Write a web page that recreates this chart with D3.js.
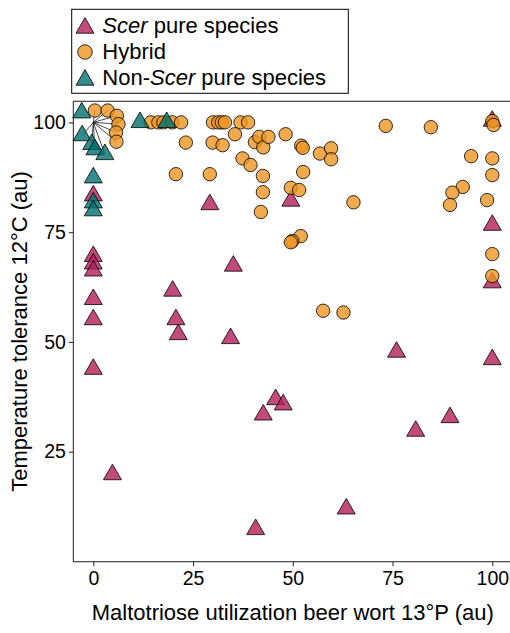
<!DOCTYPE html>
<html>
<head>
<meta charset="utf-8">
<script src="https://cdn.jsdelivr.net/npm/d3@7"></script>
<style>
  body { margin: 0; background: #fff; }
  text { font-family: "Liberation Sans", Arial, Helvetica, sans-serif; fill: #000; }
</style>
</head>
<body>
<svg id="chart" width="510" height="633"></svg>
<script>
// ---- data -------------------------------------------------------------
const xTicks = [0, 25, 50, 75, 100];
const yTicks = [25, 50, 75, 100];

const xTitle = "Maltotriose utilization beer wort 13°P (au)";
const yTitle = "Temperature tolerance 12°C (au)";

// S. cerevisiae pure species
const scerX = [0, 0, 0, 0, 0, 0, 0, 4.8, 19.9, 20.7, 21.3, 29.2, 35.1, 34.4, 40.7, 42.6, 45.7, 47.6, 49.5, 63.4, 76.0, 80.8, 89.4, 100, 100, 100, 100];
const scerY = [69.5, 67.8, 66.2, 59.7, 55.1, 43.8, 83.3, 19.8, 61.6, 55.1, 51.7, 81.3, 67.3, 50.8, 7.3, 33.4, 36.9, 35.7, 82.1, 12.0, 47.7, 29.7, 32.8, 100.3, 76.6, 63.5, 46.0];

// Hybrids
const hybX = [14.4, 16.3, 17.6, 19.8, 22.0, 30.0, 31.3, 32.2, 33.0, 36.9, 38.8,
  73.3, 84.6, 100, 100.3,
  23.2, 29.9, 32.4, 35.5, 40.5, 41.6, 42.6, 43.9, 48.2, 52.1, 52.5, 56.8, 59.6, 59.6,
  37.4, 39.4, 20.7, 29.2, 42.5, 52.6, 42.5, 49.5, 51.6, 42.0, 65.2,
  52.0, 49.9, 49.5, 57.6, 62.7,
  94.7, 100, 100, 92.6, 90.0, 89.4, 98.7, 100, 100];
const hybY = [100, 100, 100, 100, 100, 100, 100, 100, 100, 100, 100,
  99.2, 98.9, 100.3, 99.4,
  95.4, 95.4, 94.8, 97.3, 95.5, 96.7, 94.3, 96.7, 97.3, 94.7, 94.2, 92.9, 94.1, 91.6,
  91.8, 90.3, 88.2, 88.2, 87.8, 88.7, 84.1, 85.1, 84.6, 79.6, 81.8,
  74.1, 73.0, 72.7, 57.1, 56.7,
  92.3, 91.8, 88.0, 85.3, 84.0, 81.2, 82.3, 70.0, 65.0];

// Non-S. cerevisiae pure species
const nonX = [-2.9, 11.7, 18.4, 0, 0, 0];
const nonY = [102.2, 100, 100, 87.4, 81.7, 79.9];

// Strains sharing the point (0, 100), fanned out around it
const spreadCentre = [0, 100];
const spreadHybX = [0.4, 3.6, 5.9, 6.3, 5.7, 5.8];
const spreadHybY = [102.7, 102.7, 101.5, 99.6, 97.7, 95.6];
const spreadNonX = [-2.8, -0.4, 0.4, 2.9];
const spreadNonY = [97.0, 95.0, 93.8, 92.7];

const groups = [
  { key: "scer", label: ["Scer", " pure species"], italic: [true, false], fill: "#b31e5a", shape: "tri" },
  { key: "hyb", label: ["Hybrid"], italic: [false], fill: "#ee9520", shape: "circ" },
  { key: "non", label: ["Non-", "Scer", " pure species"], italic: [false, true, false], fill: "#007070", shape: "tri" }
];

// ---- layout -----------------------------------------------------------
const svg = d3.select("#chart");
const x = d3.scaleLinear().domain([-5, 105]).range([73.35, 512.25]);
const y = d3.scaleLinear().domain([-0.05, 104.8]).range([561.7, 101.3]);

const fillOpacity = 0.8;
const strokeCol = "#000";
const strokeOp = 0.8;
const triPath = d3.symbol().type(d3.symbolTriangle).size(140)();
const circR = 6.7;

// ---- axes -------------------------------------------------------------
const yAxis = svg.append("g")
  .attr("transform", `translate(${x(-5)},0)`)
  .call(d3.axisLeft(y).tickValues(yTicks).tickSize(4.5).tickPadding(3).tickFormat(d3.format("d")));
const xAxis = svg.append("g")
  .attr("transform", `translate(0,${y(-0.05)})`)
  .call(d3.axisBottom(x).tickValues(xTicks).tickSize(4.5).tickPadding(5).tickFormat(d3.format("d")));
[xAxis, yAxis].forEach(a => {
  a.select(".domain").remove();
  a.selectAll(".tick line").attr("stroke", "#333").attr("stroke-width", 1.1);
  a.selectAll(".tick text").attr("font-size", 19.5).attr("fill", "#111")
    .style("font-family", '"Liberation Sans", Arial, sans-serif');
});

// panel border
svg.append("rect")
  .attr("x", x(-5)).attr("y", y(104.8))
  .attr("width", x(105) - x(-5)).attr("height", y(-0.05) - y(104.8))
  .attr("fill", "none").attr("stroke", "#333").attr("stroke-width", 1.1);

// axis titles
svg.append("text")
  .attr("x", (x(-5) + x(105)) / 2).attr("y", 620)
  .attr("text-anchor", "middle").attr("font-size", 22)
  .text(xTitle);
svg.append("text")
  .attr("transform", `translate(27,${(y(-0.05) + y(104.8)) / 2}) rotate(-90)`)
  .attr("text-anchor", "middle").attr("font-size", 22)
  .text(yTitle);

// ---- marks ------------------------------------------------------------
const plot = svg.append("g");

// spokes from the shared point to each fanned-out strain
const spokes = spreadHybX.map((v, i) => [v, spreadHybY[i]])
  .concat(spreadNonX.map((v, i) => [v, spreadNonY[i]]));
plot.selectAll("line.spoke").data(spokes).join("line")
  .attr("class", "spoke")
  .attr("x1", x(spreadCentre[0])).attr("y1", y(spreadCentre[1]))
  .attr("x2", d => x(d[0])).attr("y2", d => y(d[1]))
  .attr("stroke", "#000").attr("stroke-width", 0.7);

function drawTri(sel, xs, ys, fill) {
  sel.selectAll(null).data(xs.map((v, i) => [v, ys[i]])).join("path")
    .attr("d", triPath)
    .attr("transform", d => `translate(${x(d[0])},${y(d[1])})`)
    .attr("fill", fill).attr("fill-opacity", fillOpacity)
    .attr("stroke", strokeCol).attr("stroke-opacity", strokeOp).attr("stroke-width", 1);
}
function drawCirc(sel, xs, ys, fill) {
  sel.selectAll(null).data(xs.map((v, i) => [v, ys[i]])).join("circle")
    .attr("cx", d => x(d[0])).attr("cy", d => y(d[1])).attr("r", circR)
    .attr("fill", fill).attr("fill-opacity", fillOpacity)
    .attr("stroke", strokeCol).attr("stroke-opacity", strokeOp).attr("stroke-width", 1);
}

drawTri(plot.append("g"), scerX, scerY, groups[0].fill);
drawCirc(plot.append("g"), hybX.concat(spreadHybX), hybY.concat(spreadHybY), groups[1].fill);
drawTri(plot.append("g"), nonX.concat(spreadNonX), nonY.concat(spreadNonY), groups[2].fill);

// ---- legend -----------------------------------------------------------
const legend = svg.append("g");
legend.append("rect")
  .attr("x", 71.7).attr("y", 9.3).attr("width", 276.6).attr("height", 84)
  .attr("fill", "#fff").attr("stroke", "#000").attr("stroke-width", 1);
groups.forEach((g, i) => {
  const cy = 26 + i * 26;
  if (g.shape === "tri") {
    legend.append("path").attr("d", triPath)
      .attr("transform", `translate(85,${cy + 2})`)
      .attr("fill", g.fill).attr("fill-opacity", fillOpacity)
      .attr("stroke", strokeCol).attr("stroke-opacity", strokeOp);
  } else {
    legend.append("circle").attr("cx", 85).attr("cy", cy).attr("r", 7.3)
      .attr("fill", g.fill).attr("fill-opacity", fillOpacity)
      .attr("stroke", strokeCol).attr("stroke-opacity", strokeOp);
  }
  const t = legend.append("text").attr("x", 102.3).attr("y", cy + 6.5).attr("font-size", 22);
  g.label.forEach((s, j) => {
    t.append("tspan").attr("font-style", g.italic[j] ? "italic" : "normal").text(s);
  });
});
</script>
</body>
</html>
